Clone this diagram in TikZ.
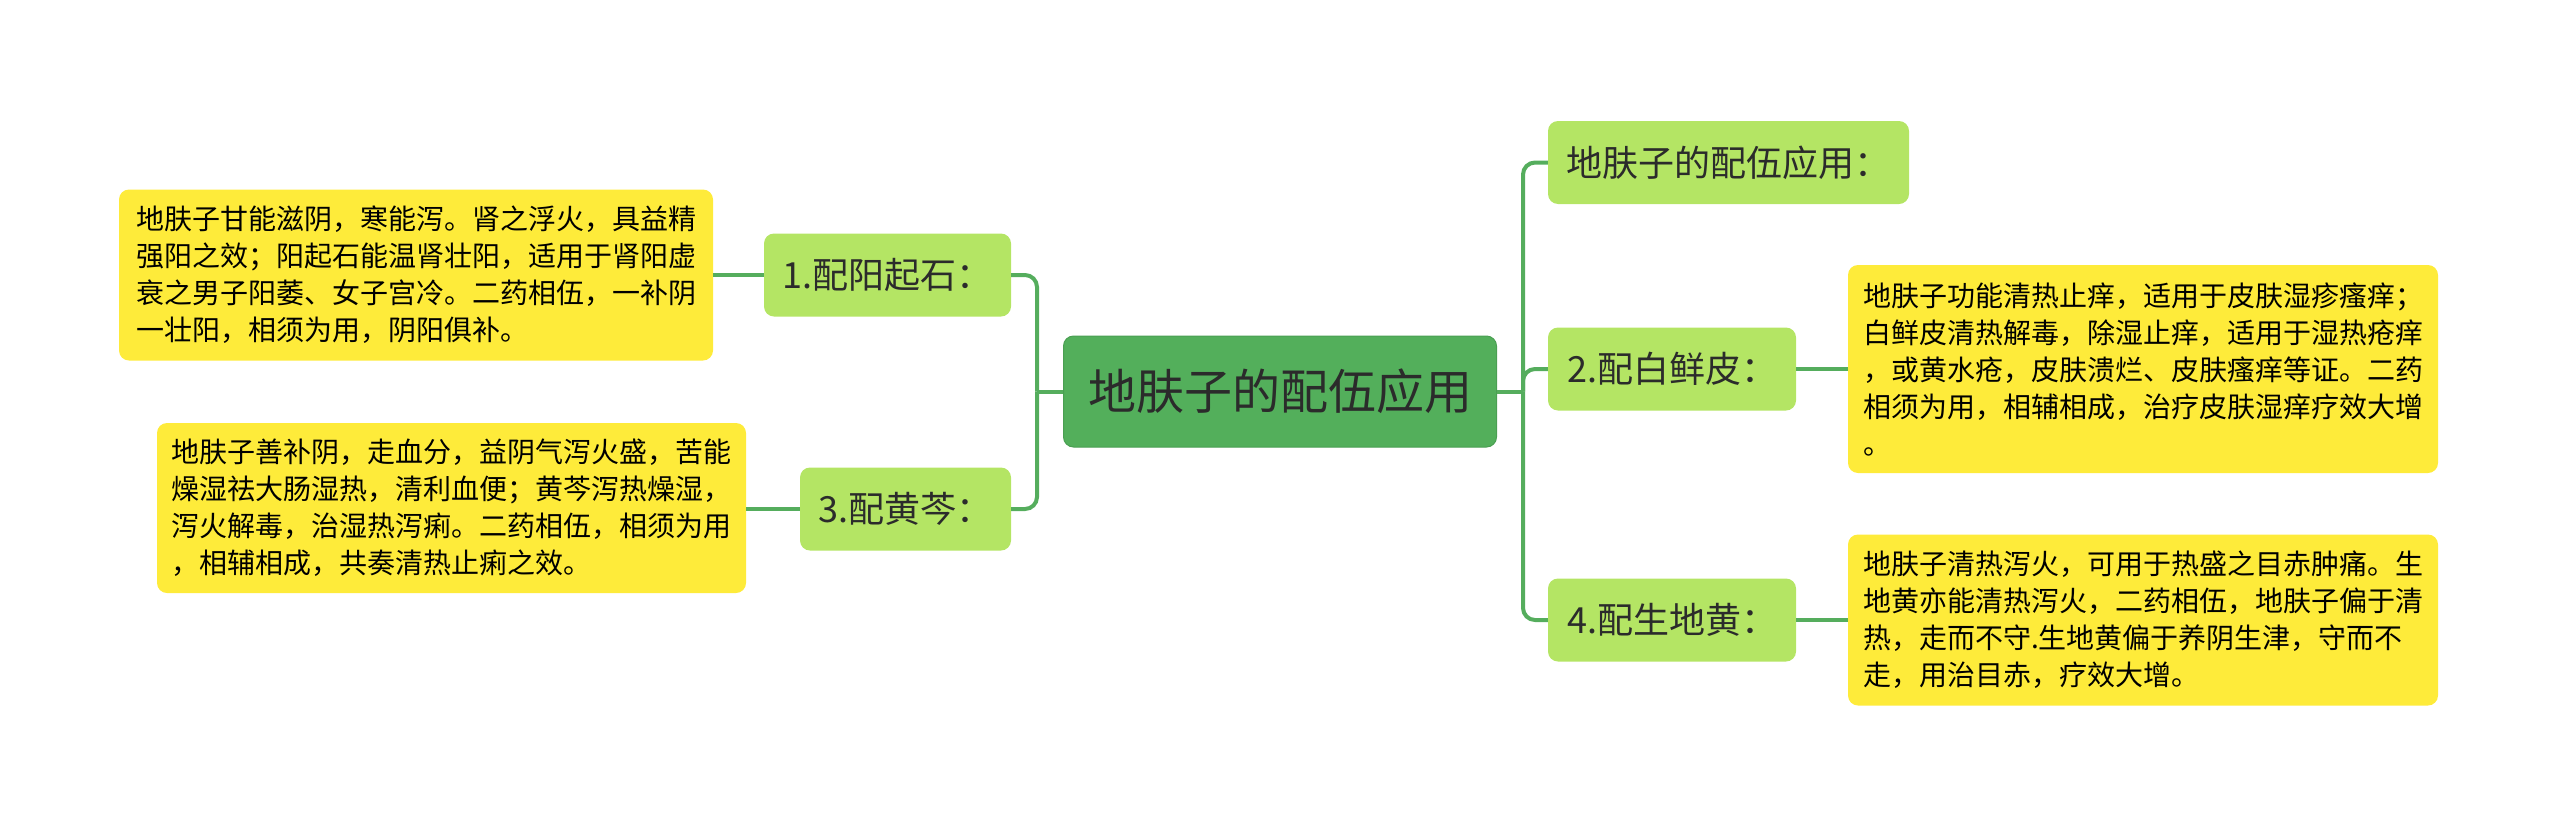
\documentclass[tikz,border=0pt]{standalone}
\usepackage{fontspec}
\newfontfamily\cjk{Noto Sans CJK SC}
\definecolor{rootgreen}{HTML}{53AF5B}
\definecolor{rootedge}{HTML}{4A9F52}
\definecolor{branchgreen}{HTML}{B4E564}
\definecolor{leafyellow}{HTML}{FEEB3A}
\definecolor{linkgreen}{HTML}{55AD5D}
\definecolor{inkgray}{HTML}{2B2B2B}

\begin{document}
\begin{tikzpicture}[x=1pt, y=-1pt,
    root/.style={rectangle, rounded corners=10pt, fill=rootgreen, draw=rootedge, line width=1pt,
                 minimum width=433pt, minimum height=111pt, font=\cjk\fontsize{48}{56}\selectfont, text=inkgray},
    branch/.style={rectangle, rounded corners=10pt, fill=branchgreen, minimum height=83pt,
                   font=\cjk\fontsize{36}{42}\selectfont, text=inkgray},
    leaf/.style={rectangle, rounded corners=10pt, fill=leafyellow, align=left,
                 font=\cjk\fontsize{28}{37}\selectfont, text=black},
    link/.style={draw=linkgreen, line width=4pt, rounded corners=12pt}]

     \useasboundingbox (0,0) rectangle (2560,828);

     % root
     \node[root] (root) at (1280,391.5) {地肤子的配伍应用};

     % left branches
     \node[branch, minimum width=247pt] (peiyang) at (887.5,275) {1.配阳起石：};
     \node[branch, minimum width=211pt] (peihuang) at (905.5,509) {3.配黄芩：};

     \node[leaf, minimum width=594pt, minimum height=171pt] (yangqi) at (416,275)
          {地肤子甘能滋阴，寒能泻。肾之浮火，具益精\\强阳之效；阳起石能温肾壮阳，适用于肾阳虚\\衰之男子阳萎、女子宫冷。二药相伍，一补阴\\一壮阳，相须为用，阴阳俱补。};
     \node[leaf, minimum width=589pt, minimum height=170pt] (huangqin) at (451.5,508)
          {地肤子善补阴，走血分，益阴气泻火盛，苦能\\燥湿祛大肠湿热，清利血便；黄芩泻热燥湿，\\泻火解毒，治湿热泻痢。二药相伍，相须为用\\，相辅相成，共奏清热止痢之效。};

     % right branches
     \node[branch, minimum width=361pt] (intro) at (1728.5,162.5) {地肤子的配伍应用：};
     \node[branch, minimum width=248pt] (peibai) at (1672,369) {2.配白鲜皮：};
     \node[branch, minimum width=248pt] (peisheng) at (1672,620) {4.配生地黄：};

     \node[leaf, minimum width=590pt, minimum height=208pt] (baixian) at (2143,369)
          {地肤子功能清热止痒，适用于皮肤湿疹瘙痒；\\白鲜皮清热解毒，除湿止痒，适用于湿热疮痒\\，或黄水疮，皮肤溃烂、皮肤瘙痒等证。二药\\相须为用，相辅相成，治疗皮肤湿痒疗效大增\\。};
     \node[leaf, minimum width=590pt, minimum height=171pt] (shengdi) at (2143,620)
          {地肤子清热泻火，可用于热盛之目赤肿痛。生\\地黄亦能清热泻火，二药相伍，地肤子偏于清\\热，走而不守.生地黄偏于养阴生津，守而不\\走，用治目赤，疗效大增。};

     % joints
     \coordinate (jleft) at (1037,391.5);
     \coordinate (jright) at (1523,391.5);

     % links
     \draw[link] (root.west) -- (jleft);
     \draw[link] (peiyang.east) -| (jleft);
     \draw[link] (peihuang.east) -| (jleft);
     \draw[link] (peiyang.west) -- (yangqi.east);
     \draw[link] (peihuang.west) -- (huangqin.east |- peihuang.west);

     \draw[link] (root.east) -- (jright);
     \draw[link] (jright) |- (intro.west);
     \draw[link] (jright) |- (peibai.west);
     \draw[link] (jright) |- (peisheng.west);
     \draw[link] (peibai.east) -- (baixian.west);
     \draw[link] (peisheng.east) -- (shengdi.west);

\end{tikzpicture}
\end{document}
